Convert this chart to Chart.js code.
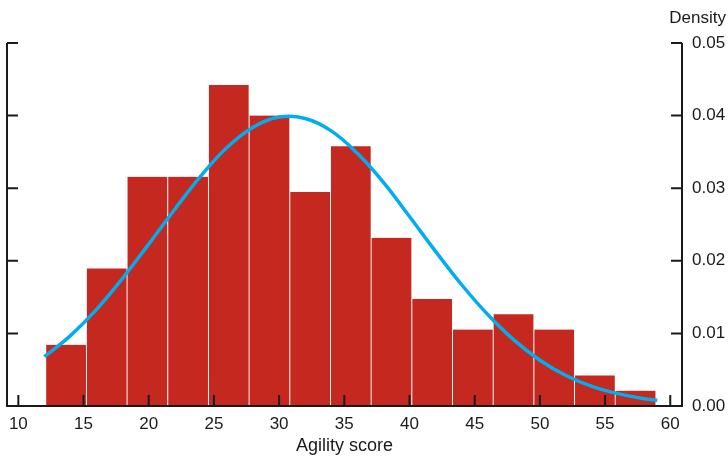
<!DOCTYPE html>
<html>
<head>
<meta charset="utf-8">
<script src="https://cdn.jsdelivr.net/npm/chart.js@4"></script>
<style>
  html, body { margin: 0; padding: 0; background: #fff; }
  #wrap { width: 728px; height: 456px; }
</style>
</head>
<body>
<div id="wrap"><canvas id="histChart"></canvas></div>
<script>
// histogram bins (centre of each bin) and their densities
const binCenters = [13.66, 16.78, 19.90, 23.02, 26.14, 29.26, 32.38, 35.50, 38.62, 41.74, 44.86, 47.98, 51.10, 54.22, 57.34];
const binDensity = [0.00842, 0.01895, 0.03158, 0.03158, 0.04421, 0.04000, 0.02947, 0.03579, 0.02316, 0.01474, 0.01053, 0.01263, 0.01053, 0.00421, 0.00211];

// fitted curve
const curveX = [12, 14, 16, 18, 20, 22, 24, 26, 28, 30, 32, 34, 36, 38, 40, 42, 44, 46, 48, 50, 52, 54, 56, 58, 59];
const curveY = [0.0068, 0.0097, 0.0133, 0.0176, 0.0223, 0.0271, 0.0317, 0.0356, 0.0384, 0.0398, 0.0396, 0.0379, 0.0348, 0.0308, 0.0261, 0.0213, 0.0167, 0.0126, 0.0091, 0.0063, 0.0042, 0.0027, 0.0017, 0.0010, 0.0008];

const xTicks = [10, 15, 20, 25, 30, 35, 40, 45, 50, 55, 60];
const yTicks = [0, 0.01, 0.02, 0.03, 0.04, 0.05];

const FONT = "'Liberation Sans', Arial, sans-serif";
const INK = '#1a1a1a';

// axis lines + inward tick marks, drawn on top of the bars
const axisPlugin = {
  id: 'axisPlugin',
  afterDatasetsDraw(chart) {
    const ctx = chart.ctx;
    const a = chart.chartArea;
    const xs = chart.scales.x;
    const ys = chart.scales.y;
    const tl = 11;
    ctx.save();
    ctx.strokeStyle = INK;
    ctx.lineWidth = 2;
    ctx.lineCap = 'butt';
    ctx.beginPath();
    ctx.moveTo(a.left, ys.getPixelForValue(0.05));
    ctx.lineTo(a.left, a.bottom);
    ctx.lineTo(a.right, a.bottom);
    ctx.lineTo(a.right, ys.getPixelForValue(0.05));
    ctx.stroke();
    ctx.beginPath();
    xTicks.forEach(function (v) {
      const px = xs.getPixelForValue(v);
      ctx.moveTo(px, a.bottom);
      ctx.lineTo(px, a.bottom - tl);
    });
    yTicks.forEach(function (v) {
      const py = ys.getPixelForValue(v);
      ctx.moveTo(a.left, py);
      ctx.lineTo(a.left + tl, py);
      ctx.moveTo(a.right, py);
      ctx.lineTo(a.right - tl, py);
    });
    ctx.stroke();

    ctx.fillStyle = INK;
    ctx.font = '17px ' + FONT;
    ctx.textAlign = 'right';
    ctx.textBaseline = 'middle';
    ctx.fillText('Density', chart.width - 2, 18);
    ctx.restore();
  }
};

const ctx = document.getElementById('histChart').getContext('2d');
new Chart(ctx, {
  type: 'bar',
  data: {
    datasets: [
      {
        type: 'line',
        data: curveX.map((x, i) => ({ x: x, y: curveY[i] })),
        borderColor: '#00aeef',
        borderWidth: 3.5,
        pointRadius: 0,
        tension: 0.4,
        fill: false,
        order: 0
      },
      {
        type: 'bar',
        data: binCenters.map((x, i) => ({ x: x, y: binDensity[i] })),
        backgroundColor: '#c4281f',
        borderColor: '#ffffff',
        borderWidth: { left: 0.8, right: 0.8, top: 0, bottom: 0 },
        borderSkipped: false,
        barPercentage: 1,
        categoryPercentage: 1,
        order: 1
      }
    ]
  },
  options: {
    responsive: true,
    maintainAspectRatio: false,
    animation: false,
    layout: { padding: { left: 7, top: 43, right: 0, bottom: 0 } },
    plugins: {
      legend: { display: false },
      tooltip: { enabled: false }
    },
    scales: {
      x: {
        type: 'linear',
        min: 9.13,
        max: 60.9,
        offset: false,
        grid: { display: false },
        border: { display: false },
        afterBuildTicks: function (scale) {
          scale.ticks = xTicks.map(v => ({ value: v }));
        },
        afterFit: function (scale) { scale.height = 50; },
        ticks: {
          padding: 0,
          maxRotation: 0,
          color: INK,
          font: { family: FONT, size: 17 },
          callback: v => String(v)
        },
        title: {
          display: true,
          text: 'Agility score',
          color: INK,
          font: { family: FONT, size: 18, lineHeight: 1.0 },
          padding: { top: 0, bottom: 1 }
        }
      },
      y: {
        position: 'right',
        min: 0,
        max: 0.05,
        grid: { display: false },
        border: { display: false },
        afterBuildTicks: function (scale) {
          scale.ticks = yTicks.map(v => ({ value: v }));
        },
        afterFit: function (scale) { scale.width = 46; },
        ticks: {
          padding: 2,
          color: INK,
          font: { family: FONT, size: 17 },
          callback: v => v.toFixed(2)
        }
      }
    }
  },
  plugins: [axisPlugin]
});
</script>
</body>
</html>
